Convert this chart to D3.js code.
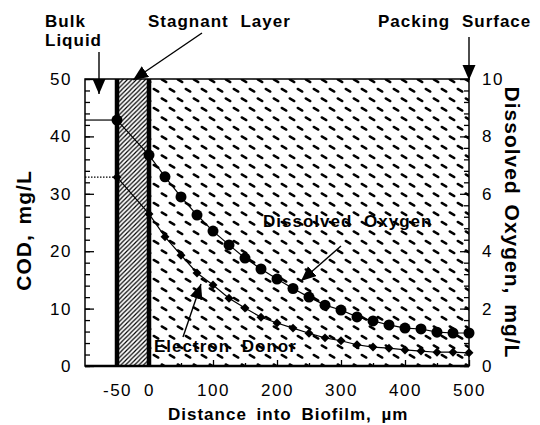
<html>
<head>
<title>COD and Dissolved Oxygen Profile in Biofilm</title>
<script src="https://d3js.org/d3.v7.min.js" charset="utf-8"></script>
<style>
body { margin: 0; background: white; }
svg text { font-family: "Liberation Sans", Arial, Helvetica, sans-serif; fill: black; }
.lab { font-weight: bold; font-size: 17px; letter-spacing: 1px; word-spacing: 6px; }
.tick text { font-size: 17px; letter-spacing: 1.5px; }
.title { font-weight: bold; font-size: 21px; letter-spacing: 1px; word-spacing: 3px; }
</style>
</head>
<body>
<script>
// distance into the biofilm (um); -50 is the bulk liquid sample
var depth = [-50, 0, 25, 50, 75, 100, 125, 150, 175, 200, 225, 250, 275, 300, 325, 350, 375, 400, 425, 450, 475, 500];
// dissolved oxygen, mg/L (right axis)
var oxygen = [8.57, 7.35, 6.59, 5.89, 5.26, 4.70, 4.22, 3.76, 3.38, 3.03, 2.70, 2.40, 2.12, 1.95, 1.71, 1.57, 1.43, 1.32, 1.29, 1.18, 1.15, 1.15];
// electron donor, COD mg/L (left axis)
var donor = [32.9, 26.5, 22.5, 19.3, 16.2, 14.1, 11.8, 10.1, 8.5, 7.5, 6.6, 5.7, 4.9, 4.4, 3.7, 3.3, 3.1, 2.8, 2.6, 2.4, 2.4, 2.3];

var xTicks = [-50, 0, 100, 200, 300, 400, 500];
var codTicks = [0, 10, 20, 30, 40, 50];
var doTicks = [0, 2, 4, 6, 8, 10];

var width = 540, height = 425;
var m = {left: 85, right: 469, top: 79, bottom: 366};

var x = d3.scaleLinear().domain([-100, 500]).range([m.left, m.right]);
var yCod = d3.scaleLinear().domain([0, 50]).range([m.bottom, m.top]);
var yDo = d3.scaleLinear().domain([0, 10]).range([m.bottom, m.top]);

var svg = d3.select("body").append("svg")
  .attr("width", width)
  .attr("height", height);

var defs = svg.append("defs");

// stagnant layer hatch
defs.append("pattern")
  .attr("id", "hatch")
  .attr("patternUnits", "userSpaceOnUse")
  .attr("width", 4.5).attr("height", 4.5)
  .append("path")
  .attr("d", "M-1,1 l2,-2 M0,4.5 l4.5,-4.5 M3.5,5.5 l2,-2")
  .attr("stroke", "black")
  .attr("stroke-width", 1.2);

// biofilm "diamond plate" dashes
var plate = defs.append("pattern")
  .attr("id", "plate")
  .attr("patternUnits", "userSpaceOnUse")
  .attr("width", 16).attr("height", 19);
plate.append("path")
  .attr("d", "M1.7,3.4 L6.3,6.1 M9.7,12.9 L14.3,15.6")
  .attr("stroke", "black")
  .attr("stroke-width", 2.4)
  .attr("stroke-linecap", "round");

// arrow heads
defs.append("marker")
  .attr("id", "head")
  .attr("markerUnits", "userSpaceOnUse")
  .attr("markerWidth", 16).attr("markerHeight", 14)
  .attr("refX", 15).attr("refY", 6.5)
  .attr("orient", "auto")
  .append("path")
  .attr("d", "M0,0 L15,6.5 L0,13 Z")
  .attr("fill", "black");

// zones
svg.append("rect")
  .attr("x", x(-100)).attr("y", m.top)
  .attr("width", x(-50) - x(-100)).attr("height", m.bottom - m.top)
  .attr("fill", "white");
svg.append("rect")
  .attr("x", x(-50)).attr("y", m.top)
  .attr("width", x(0) - x(-50)).attr("height", m.bottom - m.top)
  .attr("fill", "url(#hatch)");
svg.append("rect")
  .attr("x", x(0)).attr("y", m.top)
  .attr("width", x(500) - x(0)).attr("height", m.bottom - m.top)
  .attr("fill", "url(#plate)");

// layer boundaries
[-50, 0].forEach(function(v) {
  svg.append("line")
    .attr("x1", x(v)).attr("x2", x(v))
    .attr("y1", m.top).attr("y2", m.bottom)
    .attr("stroke", "black").attr("stroke-width", 4.5);
});

// frame
svg.append("rect")
  .attr("x", m.left).attr("y", m.top)
  .attr("width", m.right - m.left).attr("height", m.bottom - m.top)
  .attr("fill", "none").attr("stroke", "black").attr("stroke-width", 1.5);
svg.append("line")
  .attr("x1", m.left).attr("x2", m.right)
  .attr("y1", m.bottom).attr("y2", m.bottom)
  .attr("stroke", "black").attr("stroke-width", 2.5);

// axes
var fmt = function(d) { return String(d); };
svg.append("g").attr("transform", "translate(" + m.left + ",0)")
  .call(d3.axisLeft(yCod).tickValues(codTicks).tickSize(-9).tickPadding(13).tickFormat(fmt));
svg.append("g").attr("transform", "translate(" + m.left + ",0)")
  .call(d3.axisLeft(yCod).tickValues(d3.range(0, 51, 2)).tickSize(-5).tickFormat(""));
svg.append("g").attr("transform", "translate(" + m.right + ",0)")
  .call(d3.axisRight(yDo).tickValues(doTicks).tickSize(-9).tickPadding(13).tickFormat(fmt));
svg.append("g").attr("transform", "translate(" + m.right + ",0)")
  .call(d3.axisRight(yDo).tickValues(d3.range(0, 10.1, 0.4)).tickSize(-5).tickFormat(""));
svg.append("g").attr("transform", "translate(0," + m.bottom + ")")
  .call(d3.axisBottom(x).tickValues(xTicks).tickSize(-6).tickPadding(18).tickFormat(fmt));
svg.append("g").attr("transform", "translate(0," + m.bottom + ")")
  .call(d3.axisBottom(x).tickValues(d3.range(50, 500, 100)).tickSize(-3).tickFormat(""));
svg.selectAll(".domain").remove();
svg.selectAll(".tick line").attr("stroke", "black").attr("stroke-width", 1.3);

// bulk liquid concentrations
svg.append("line")
  .attr("x1", x(-100)).attr("x2", x(depth[0]))
  .attr("y1", yDo(oxygen[0])).attr("y2", yDo(oxygen[0]))
  .attr("stroke", "black").attr("stroke-width", 1.2);
svg.append("line")
  .attr("x1", x(-100)).attr("x2", x(depth[0]))
  .attr("y1", yCod(donor[0])).attr("y2", yCod(donor[0]))
  .attr("stroke", "black").attr("stroke-width", 1.2)
  .attr("stroke-dasharray", "1.5,1.5");

// profiles
var doLine = d3.line().x(function(d, i) { return x(depth[i]); }).y(function(d) { return yDo(d); });
var codLine = d3.line().x(function(d, i) { return x(depth[i]); }).y(function(d) { return yCod(d); });

svg.append("path").datum(oxygen).attr("d", doLine)
  .attr("fill", "none").attr("stroke", "black").attr("stroke-width", 1.2);
svg.append("path").datum(donor).attr("d", codLine)
  .attr("fill", "none").attr("stroke", "black").attr("stroke-width", 1.2);

svg.append("g").selectAll("circle")
  .data(oxygen).enter().append("circle")
  .attr("cx", function(d, i) { return x(depth[i]); })
  .attr("cy", function(d) { return yDo(d); })
  .attr("r", 5.5)
  .attr("fill", "black");

var diamond = d3.symbol().type(d3.symbolSquare).size(40);
svg.append("g").selectAll("path")
  .data(donor).enter().append("path")
  .attr("d", diamond)
  .attr("transform", function(d, i) { return "translate(" + x(depth[i]) + "," + yCod(d) + ") rotate(45)"; })
  .attr("fill", "black");

// axis titles
svg.append("text").attr("class", "title")
  .attr("transform", "translate(31," + ((m.top + m.bottom) / 2 + 8) + ") rotate(-90)")
  .attr("text-anchor", "middle")
  .text("COD, mg/L");
svg.append("text").attr("class", "title")
  .attr("transform", "translate(505," + ((m.top + m.bottom) / 2) + ") rotate(90)")
  .attr("text-anchor", "middle")
  .text("Dissolved Oxygen, mg/L");
svg.append("text").attr("class", "lab")
  .attr("x", 168).attr("y", 420)
  .style("word-spacing", "4px")
  .text("Distance into Biofilm, \u00b5m");

// zone labels and arrows
svg.append("text").attr("class", "lab").attr("x", 45).attr("y", 27).text("Bulk");
svg.append("text").attr("class", "lab").attr("x", 45).attr("y", 46).text("Liquid");
svg.append("text").attr("class", "lab").attr("x", 148).attr("y", 27).text("Stagnant Layer");
svg.append("text").attr("class", "lab").attr("x", 378).attr("y", 27).text("Packing Surface");
svg.append("text").attr("class", "lab").attr("x", 263).attr("y", 227).text("Dissolved Oxygen");
svg.append("text").attr("class", "lab").attr("x", 154).attr("y", 352).text("Electron Donor");

var arrows = [
  [99, 52, 99, 94],
  [202, 33, 133, 80],
  [x(500), 37, x(500), 80],
  [341, 246, 301, 281],
  [183, 337, 201, 284]
];
svg.append("g").selectAll("line")
  .data(arrows).enter().append("line")
  .attr("x1", function(d) { return d[0]; })
  .attr("y1", function(d) { return d[1]; })
  .attr("x2", function(d) { return d[2]; })
  .attr("y2", function(d) { return d[3]; })
  .attr("stroke", "black").attr("stroke-width", 1.4)
  .attr("marker-end", "url(#head)");
</script>
</body>
</html>
